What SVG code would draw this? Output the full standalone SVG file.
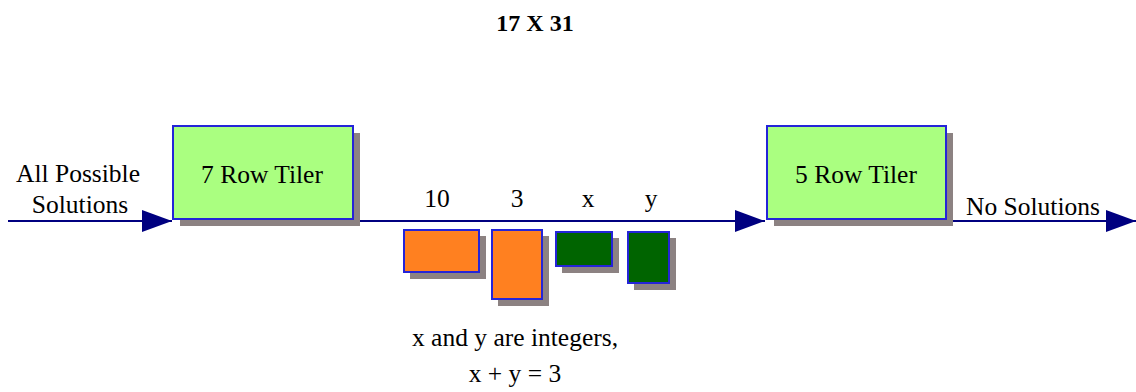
<svg xmlns="http://www.w3.org/2000/svg" width="1136" height="392" viewBox="0 0 1136 392">
<style>
text{font-family:"Liberation Serif","Times New Roman",serif;font-size:25.5px;fill:#000;text-anchor:middle}
.title{font-weight:bold;font-size:24px}
.shadow{fill:#8c8282}
.box{stroke:#2424d8;stroke-width:2}
.tiler{fill:#aaff80}
.orange{fill:#ff8020}
.green{fill:#006400}
.line{stroke:#000080;stroke-width:2;fill:none}
</style>
<defs>
<marker id="arr" viewBox="0 0 30 22" refX="30" refY="11" markerWidth="30" markerHeight="22" markerUnits="userSpaceOnUse" orient="auto">
<path d="M0,0 L30,11 L0,22 Z" fill="#000080"/>
</marker>
</defs>
<text class="title" x="535" y="31">17 X 31</text>
<g id="connectors">
<line class="line" x1="8" y1="221" x2="172" y2="221" marker-end="url(#arr)"/>
<line class="line" x1="353" y1="221" x2="765" y2="221" marker-end="url(#arr)"/>
<line class="line" x1="946" y1="221" x2="1136" y2="221" marker-end="url(#arr)"/>
</g>
<g id="input-label">
<text x="78" y="182">All Possible</text>
<text x="80" y="213">Solutions</text>
</g>
<g id="tiler7">
<rect class="shadow" x="180" y="133" width="180" height="93"/>
<rect class="box tiler" x="173" y="126" width="180" height="93"/>
<text x="262" y="183">7 Row Tiler</text>
</g>
<g id="tiler5">
<rect class="shadow" x="774" y="133" width="179" height="93"/>
<rect class="box tiler" x="767" y="126" width="179" height="93"/>
<text x="856" y="183">5 Row Tiler</text>
</g>
<g id="output-label">
<text x="1033" y="215">No Solutions</text>
</g>
<g id="tile10">
<text x="437" y="207">10</text>
<rect class="shadow" x="410" y="236" width="76" height="43"/>
<rect class="box orange" x="404" y="230" width="75" height="42"/>
</g>
<g id="tile3">
<text x="517" y="207">3</text>
<rect class="shadow" x="498" y="236" width="51" height="70"/>
<rect class="box orange" x="492" y="230" width="50" height="69"/>
</g>
<g id="tilex">
<text x="588" y="207">x</text>
<rect class="shadow" x="562" y="238" width="57" height="35"/>
<rect class="box green" x="556" y="232" width="56" height="34"/>
</g>
<g id="tiley">
<text x="651" y="207">y</text>
<rect class="shadow" x="634" y="238" width="42" height="52"/>
<rect class="box green" x="628" y="232" width="41" height="51"/>
</g>
<g id="note">
<text x="515" y="346">x and y are integers,</text>
<text x="515" y="382">x + y = 3</text>
</g>
</svg>
